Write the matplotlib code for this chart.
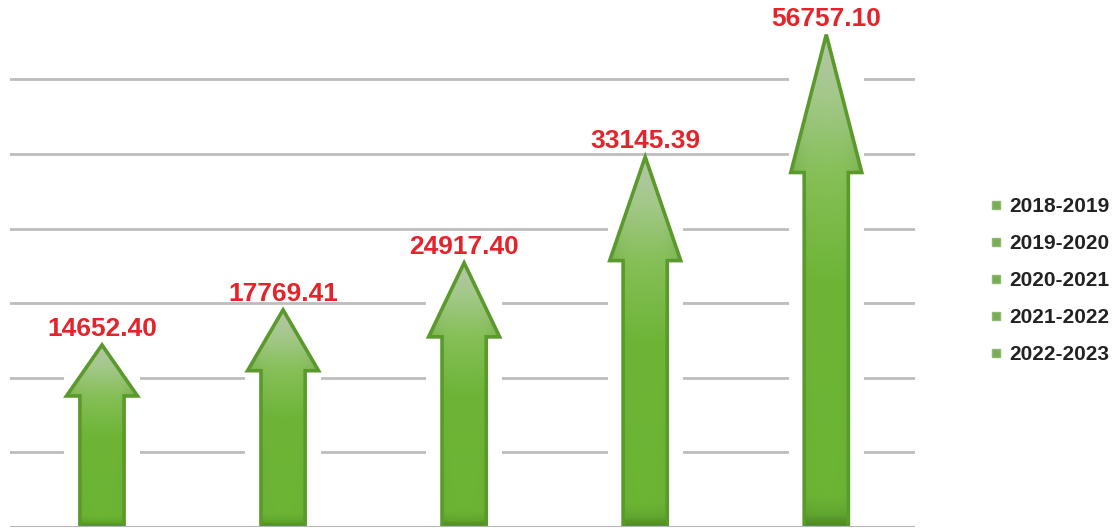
import numpy as np
import matplotlib
matplotlib.use("Agg")
import matplotlib.pyplot as plt
from matplotlib.patches import Polygon, Rectangle
from matplotlib.lines import Line2D
from matplotlib.colors import LinearSegmentedColormap

plt.rcParams['font.family'] = ['Liberation Sans', 'DejaVu Sans']

# ---- data ----
periods = ['2018-2019', '2019-2020', '2020-2021', '2021-2022', '2022-2023']
values = [14652.40, 17769.41, 24917.40, 33145.39, 56757.10]
# drawn arrow heights, in gridline units
arrow_heights = [2.44, 2.91, 3.54, 4.96, 6.60]
grid_levels = [1, 2, 3, 4, 5, 6]

W, H = 1120, 530
fig = plt.figure(figsize=(W / 100, H / 100), dpi=100)
ax = fig.add_axes([10 / W, 3 / H, 905 / W, 527 / H])
ax.set_axis_off()

shaft_hw = 0.122
head_hw = 0.196
head_frac = 0.28

grid_color = '#bdbdbd'
for g in grid_levels:
    ax.axhline(g, color=grid_color, lw=2.0, zorder=1)
ax.axhline(0, color='#b5b5b5', lw=2.2, zorder=6)

cmap = LinearSegmentedColormap.from_list(
    'arrowgrad',
    [(0.0, '#4f8a2a'), (0.025, '#62a830'), (0.06, '#6cb434'),
     (0.5, '#6eb537'), (0.72, '#86c058'), (0.88, '#a4c88a'), (1.0, '#b4c6a8')])

for i, (h, v) in enumerate(zip(arrow_heights, values)):
    x = i
    hb = h * (1 - head_frac)
    verts = [(x - shaft_hw, 0), (x + shaft_hw, 0), (x + shaft_hw, hb),
             (x + head_hw, hb), (x, h), (x - head_hw, hb), (x - shaft_hw, hb)]
    # white gap behind arrow (gridlines interrupted)
    ax.add_patch(Rectangle((x - head_hw - 0.012, 0.02), 2 * (head_hw + 0.012),
                           h - 0.12, facecolor='white', edgecolor='none', zorder=2))
    poly = Polygon(verts, closed=True, facecolor='none', edgecolor='#5a9a2c',
                   lw=2.6, joinstyle='miter', zorder=4)
    ax.add_patch(poly)
    # gradient fill
    ny, nx = 200, 60
    t = np.linspace(0, 1, ny)[:, None]
    s = np.linspace(-1, 1, nx)[None, :]
    rgb = cmap(np.repeat(t, nx, axis=1))[..., :3]
    shade = 1 - 0.10 * np.abs(s) ** 4
    rgb = rgb * shade[..., None]
    im = ax.imshow(rgb, extent=[x - head_hw, x + head_hw, 0, h], origin='lower',
                   aspect='auto', zorder=3, interpolation='bilinear')
    im.set_clip_path(poly)
    ax.text(x, h + 0.12, f'{v:.2f}', ha='center', va='baseline',
            color='#e5232b', fontsize=19, fontweight='bold', zorder=7)

ax.set_xlim(-0.508, 4.49)
ax.set_ylim(0, 527 / 74.6)

handles = [Line2D([], [], marker='s', linestyle='', markersize=6,
                  markerfacecolor='#7aab58', markeredgecolor='#8cbb6c')
           for _ in periods]
leg = fig.legend(handles, periods, loc='upper left',
                 bbox_to_anchor=(989 / W, 1 - 197 / H), frameon=False,
                 borderpad=0, borderaxespad=0, handlelength=0.65,
                 handletextpad=0.3, labelspacing=0.87,
                 prop={'size': 15, 'weight': 'bold'})
for txt in leg.get_texts():
    txt.set_color('#222222')

fig.savefig('out.png', dpi=100, facecolor='white')
